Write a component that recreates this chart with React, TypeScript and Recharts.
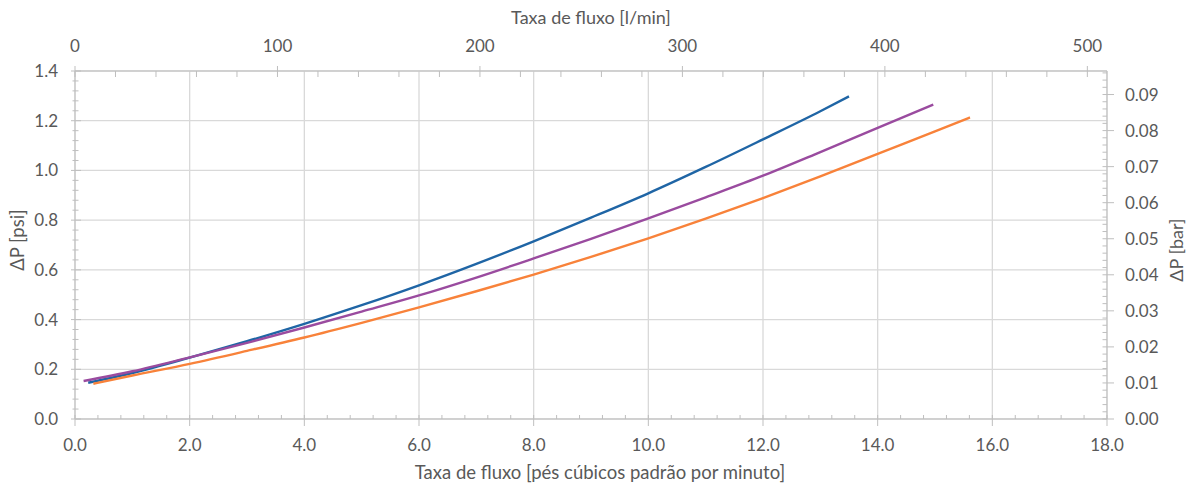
import React from 'react'
import { LineChart, Line, XAxis, YAxis, CartesianGrid, Label } from 'recharts'

// Pontos (x em pés cúbicos por minuto, y em psi)
const blueX = [0.23, 1, 2, 3, 4, 5, 6, 7, 8, 9, 10, 11, 12, 13, 13.5]
const blueY = [0.146, 0.185, 0.247, 0.313, 0.383, 0.458, 0.538, 0.624, 0.715, 0.81, 0.908, 1.014, 1.125, 1.238, 1.298]

const purpleX = [0.15, 1, 2, 3, 4, 5, 6, 7, 8, 9, 10, 11, 12, 13, 14, 14.97]
const purpleY = [0.153, 0.192, 0.248, 0.306, 0.368, 0.432, 0.497, 0.569, 0.646, 0.725, 0.807, 0.892, 0.979, 1.074, 1.171, 1.265]

const orangeX = [0.32, 1, 2, 3, 4, 5, 6, 7, 8, 9, 10, 11, 12, 13, 14, 15, 15.61]
const orangeY = [0.142, 0.175, 0.222, 0.274, 0.328, 0.387, 0.449, 0.514, 0.581, 0.652, 0.727, 0.806, 0.889, 0.976, 1.067, 1.157, 1.213]

const xMajor = [0, 2, 4, 6, 8, 10, 12, 14, 16, 18]
const psiMajor = [0, 0.2, 0.4, 0.6, 0.8, 1.0, 1.2, 1.4]

const CFM_TO_LPM = 28.3168
const PSI_TO_BAR = 0.0689476

const toPoints = (xs: number[], ys: number[]) => xs.map((x, i) => ({ x, y: ys[i] }))

const blueData = toPoints(blueX, blueY)
const purpleData = toPoints(purpleX, purpleY)
const orangeData = toPoints(orangeX, orangeY)
// mesma curva em l/min e bar, só para ligar os eixos secundários
const blueMetric = blueX.map((x, i) => ({ x: x * CFM_TO_LPM, y: blueY[i] * PSI_TO_BAR }))

const range = (n: number, step: number, dec: number) =>
  Array.from({ length: n }, (_, i) => +(i * step).toFixed(dec))

const bottomTicks = range(46, 0.4, 1)
const topTicks = range(26, 20, 0)
const leftTicks = range(36, 0.04, 2)
const rightTicks = range(49, 0.002, 3)

const isMultiple = (v: number, step: number) => Math.abs(v / step - Math.round(v / step)) < 1e-6

const AXIS = '#bfbfbf'
const TEXT = '#595959'
const FONT = 'Lato, "Open Sans", sans-serif'
const FS = 17
const TITLE_FS = 18.5

function BottomTick(props: any) {
  const { x, y, payload } = props
  const major = isMultiple(payload.value, 2)
  return (
    <g>
      <line x1={x} x2={x} y1={y - 4} y2={major ? y + 7 : y} stroke={AXIS} />
      {major && (
        <text x={x} y={y + 32} textAnchor="middle" fill={TEXT} fontSize={FS} fontFamily={FONT}>
          {payload.value.toFixed(1)}
        </text>
      )}
    </g>
  )
}

function TopTick(props: any) {
  const { x, y, payload } = props
  const major = isMultiple(payload.value, 100)
  return (
    <g>
      <line x1={x} x2={x} y1={major ? y - 5 : y} y2={y + 6} stroke={AXIS} />
      {major && (
        <text x={x} y={y - 19} textAnchor="middle" fill={TEXT} fontSize={FS} fontFamily={FONT}>
          {payload.value}
        </text>
      )}
    </g>
  )
}

function LeftTick(props: any) {
  const { x, y, payload } = props
  const major = isMultiple(payload.value, 0.2)
  return (
    <g>
      <line x1={major ? x - 4 : x - 2.5} x2={major ? x + 6 : x + 3.5} y1={y} y2={y} stroke={AXIS} />
      {major && (
        <text x={x - 17} y={y + 6} textAnchor="end" fill={TEXT} fontSize={FS} fontFamily={FONT}>
          {payload.value.toFixed(1)}
        </text>
      )}
    </g>
  )
}

function RightTick(props: any) {
  const { x, y, payload } = props
  const major = isMultiple(payload.value, 0.01)
  return (
    <g>
      <line x1={x - 4.5} x2={major ? x + 7 : x} y1={y} y2={y} stroke={AXIS} />
      {major && (
        <text x={x + 18} y={y + 6} textAnchor="start" fill={TEXT} fontSize={FS} fontFamily={FONT}>
          {payload.value.toFixed(2)}
        </text>
      )}
    </g>
  )
}

function VerticalTitle({ viewBox, text, dx, dy, size }: any) {
  const cx = viewBox.x + dx
  const cy = viewBox.y + viewBox.height / 2 + dy
  return (
    <text
      x={cx}
      y={cy}
      transform={`rotate(-90 ${cx} ${cy})`}
      textAnchor="middle"
      dominantBaseline="central"
      fill={TEXT}
      fontSize={size}
      fontFamily={FONT}
    >
      {text}
    </text>
  )
}

function HorizontalTitle({ viewBox, text, dx, baseline, size }: any) {
  return (
    <text
      x={viewBox.x + viewBox.width / 2 + dx}
      y={viewBox.y + baseline}
      textAnchor="middle"
      fill={TEXT}
      fontSize={size}
      fontFamily={FONT}
    >
      {text}
    </text>
  )
}

export default function App() {
  return (
    <div style={{ position: 'absolute', left: 0, top: 0, width: 1187, height: 483, background: '#fff' }}>
      <LineChart width={1187} height={483} margin={{ top: 0, right: 0, bottom: 0, left: 0 }}>
        <CartesianGrid
          xAxisId="bottom"
          yAxisId="psi"
          stroke="#d9d9d9"
          strokeWidth={1.3}
          verticalValues={xMajor}
          horizontalValues={psiMajor}
        />
        <XAxis
          xAxisId="bottom"
          orientation="bottom"
          type="number"
          dataKey="x"
          domain={[0, 18]}
          ticks={bottomTicks}
          interval={0}
          height={64}
          tickSize={0}
          tickMargin={0}
          stroke={AXIS}
          tick={<BottomTick />}
        >
          <Label
            content={(p: any) => (
              <HorizontalTitle {...p} text="Taxa de fluxo [pés cúbicos padrão por minuto]" dx={9} baseline={60} size={TITLE_FS} />
            )}
          />
        </XAxis>
        <XAxis
          xAxisId="top"
          orientation="top"
          type="number"
          dataKey="x"
          domain={[0, 18 * CFM_TO_LPM]}
          allowDataOverflow
          ticks={topTicks}
          interval={0}
          height={71}
          tickSize={0}
          tickMargin={0}
          stroke={AXIS}
          tick={<TopTick />}
        >
          <Label
            content={(p: any) => <HorizontalTitle {...p} text="Taxa de fluxo [l/min]" dx={0} baseline={24} size={18} />}
          />
        </XAxis>
        <YAxis
          yAxisId="psi"
          orientation="left"
          type="number"
          domain={[0, 1.4]}
          ticks={leftTicks}
          interval={0}
          width={75}
          tickSize={0}
          tickMargin={0}
          stroke={AXIS}
          tick={<LeftTick />}
        >
          <Label content={(p: any) => <VerticalTitle {...p} text="ΔP [psi]" dx={17} dy={-5} size={TITLE_FS} />} />
        </YAxis>
        <YAxis
          yAxisId="bar"
          orientation="right"
          type="number"
          domain={[0, 1.4 * PSI_TO_BAR]}
          allowDataOverflow
          ticks={rightTicks}
          interval={0}
          width={80}
          tickSize={0}
          tickMargin={0}
          stroke={AXIS}
          tick={<RightTick />}
        >
          <Label content={(p: any) => <VerticalTitle {...p} text="ΔP [bar]" dx={69} dy={5} size={18} />} />
        </YAxis>
        <Line xAxisId="top" yAxisId="bar" data={blueMetric} dataKey="y" stroke="none" strokeWidth={0} dot={false} activeDot={false} isAnimationActive={false} />
        <Line xAxisId="bottom" yAxisId="psi" data={blueData} dataKey="y" type="monotone" stroke="#1f65a5" strokeWidth={2.4} dot={false} isAnimationActive={false} />
        <Line xAxisId="bottom" yAxisId="psi" data={purpleData} dataKey="y" type="monotone" stroke="#9a4b9f" strokeWidth={2.4} dot={false} isAnimationActive={false} />
        <Line xAxisId="bottom" yAxisId="psi" data={orangeData} dataKey="y" type="monotone" stroke="#f8823a" strokeWidth={2.4} dot={false} isAnimationActive={false} />
      </LineChart>
    </div>
  )
}
